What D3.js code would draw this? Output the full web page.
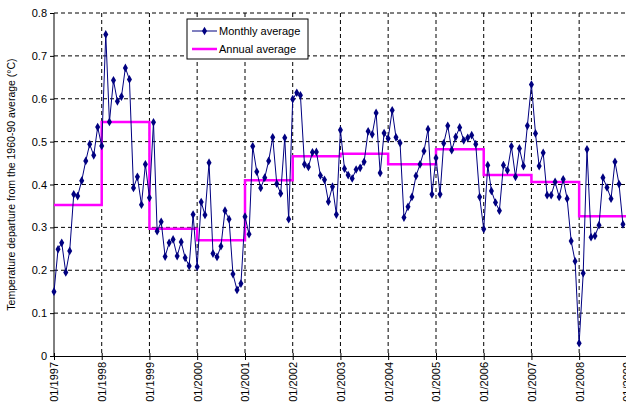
<!DOCTYPE html>
<html>
<head>
<meta charset="utf-8">
<script src="https://cdn.jsdelivr.net/npm/d3@7/dist/d3.min.js"></script>
<style>
  body { margin: 0; background: #fff; }
  svg { display: block; font-family: "Liberation Sans", Arial, sans-serif; }
  .grid line { stroke: #000; stroke-dasharray: 4,3; stroke-width: 1; }
  .axis path, .axis line { stroke: #000; }
  .axis text { fill: #000; font-size: 11px; }
</style>
</head>
<body>
<div id="chart"></div>
<script>
// monthly values, one row per year (Jan..Dec)
var years = [1997, 1998, 1999, 2000, 2001, 2002, 2003, 2004, 2005, 2006, 2007, 2008];
var monthly = [
  [0.150, 0.249, 0.264, 0.195, 0.245, 0.377, 0.373, 0.409, 0.455, 0.494, 0.468, 0.534],
  [0.490, 0.750, 0.546, 0.643, 0.594, 0.605, 0.672, 0.645, 0.392, 0.418, 0.353, 0.447],
  [0.369, 0.545, 0.291, 0.313, 0.232, 0.264, 0.272, 0.233, 0.266, 0.229, 0.210, 0.330],
  [0.208, 0.359, 0.329, 0.451, 0.239, 0.231, 0.256, 0.339, 0.319, 0.191, 0.154, 0.169],
  [0.325, 0.284, 0.489, 0.430, 0.392, 0.416, 0.455, 0.510, 0.402, 0.379, 0.509, 0.319],
  [0.599, 0.614, 0.608, 0.447, 0.441, 0.475, 0.476, 0.421, 0.411, 0.360, 0.395, 0.330],
  [0.527, 0.437, 0.422, 0.414, 0.435, 0.439, 0.453, 0.524, 0.517, 0.567, 0.427, 0.520],
  [0.507, 0.573, 0.510, 0.497, 0.323, 0.348, 0.371, 0.420, 0.447, 0.478, 0.529, 0.377],
  [0.462, 0.377, 0.496, 0.537, 0.480, 0.511, 0.533, 0.503, 0.509, 0.515, 0.494, 0.371],
  [0.296, 0.445, 0.385, 0.358, 0.339, 0.445, 0.433, 0.489, 0.418, 0.484, 0.443, 0.537],
  [0.633, 0.519, 0.443, 0.474, 0.375, 0.375, 0.406, 0.371, 0.412, 0.367, 0.268, 0.221],
  [0.030, 0.193, 0.482, 0.277, 0.280, 0.305, 0.416, 0.393, 0.367, 0.453, 0.401, 0.307]
];
var annual = [0.352, 0.546, 0.297, 0.270, 0.410, 0.466, 0.472, 0.447, 0.482, 0.422, 0.406, 0.326];
var yTicks = [0, 0.1, 0.2, 0.3, 0.4, 0.5, 0.6, 0.7, 0.8];

var W = 626, H = 412;
var margin = {top: 13, right: -1, bottom: 56, left: 54};
var width = W - margin.left - margin.right,
    height = H - margin.top - margin.bottom;

var svg = d3.select("#chart").append("svg")
    .attr("width", W)
    .attr("height", H);

var g = svg.append("g")
    .attr("transform", "translate(" + margin.left + "," + margin.top + ")");

var x = d3.scaleTime()
    .domain([new Date(1997, 0, 1), new Date(2009, 0, 1)])
    .range([0, width]);

var y = d3.scaleLinear()
    .domain([0, 0.8])
    .range([height, 0]);

var monthData = [];
monthly.forEach(function(row, i) {
  row.forEach(function(v, m) {
    monthData.push({date: new Date(years[i], m, 1), value: v});
  });
});

var annualData = annual.map(function(v, i) {
  return {start: new Date(years[i], 0, 1), end: new Date(years[i] + 1, 0, 1), value: v};
});

var yearTicks = d3.timeYear.range(new Date(1997, 0, 1), new Date(2009, 0, 2));

// grid
var grid = g.append("g").attr("class", "grid");
grid.selectAll(".hg")
    .data(yTicks.filter(function(d) { return d > 0; }))
  .enter().append("line")
    .attr("x1", 0).attr("x2", width)
    .attr("y1", function(d) { return y(d); })
    .attr("y2", function(d) { return y(d); });
grid.selectAll(".vg")
    .data(yearTicks.slice(1))
  .enter().append("line")
    .attr("x1", function(d) { return x(d); })
    .attr("x2", function(d) { return x(d); })
    .attr("y1", 0).attr("y2", height);

// axes
g.append("g")
    .attr("class", "axis")
    .call(d3.axisLeft(y).tickValues(yTicks).tickFormat(d3.format("")).tickSize(4).tickPadding(3))
    .call(function(s) { s.select(".domain").attr("d", "M0," + height + "V0"); });

var xAxis = g.append("g")
    .attr("class", "axis")
    .attr("transform", "translate(0," + height + ")")
    .call(d3.axisBottom(x).tickValues(yearTicks).tickFormat(d3.timeFormat("%m/%Y")).tickSize(4).tickSizeOuter(0));
xAxis.selectAll(".tick line").attr("y1", -3);
xAxis.selectAll("text")
    .attr("transform", "rotate(-90)")
    .attr("text-anchor", "end")
    .attr("x", -6)
    .attr("y", 0)
    .attr("dy", "0.35em");

// annual step line
var stepPts = [];
annualData.forEach(function(d) {
  stepPts.push([x(d.start), y(d.value)]);
  stepPts.push([x(d.end), y(d.value)]);
});
g.append("path")
    .attr("d", d3.line()(stepPts))
    .attr("fill", "none")
    .attr("stroke", "#ff00ff")
    .attr("stroke-width", 2.5);

// monthly line + markers
var line = d3.line()
    .x(function(d) { return x(d.date); })
    .y(function(d) { return y(d.value); });

g.append("path")
    .datum(monthData)
    .attr("d", line)
    .attr("fill", "none")
    .attr("stroke", "#000080")
    .attr("stroke-width", 1);

var diamond = d3.symbol().type(d3.symbolDiamond).size(22);
g.selectAll(".pt")
    .data(monthData)
  .enter().append("path")
    .attr("class", "pt")
    .attr("transform", function(d) { return "translate(" + x(d.date) + "," + y(d.value) + ")"; })
    .attr("d", diamond)
    .attr("fill", "#000080");

// y title
svg.append("text")
    .attr("transform", "translate(15," + (margin.top + height / 2) + ") rotate(-90)")
    .attr("text-anchor", "middle")
    .style("font-size", "10.5px")
    .text("Temperature departure from the 1960-90 average (\u00b0C)");

// legend
var lg = svg.append("g").attr("transform", "translate(187,19)");
lg.append("rect")
    .attr("width", 121).attr("height", 40)
    .attr("fill", "#fff").attr("stroke", "#000").attr("stroke-width", 1);
lg.append("line")
    .attr("x1", 5).attr("x2", 30).attr("y1", 12).attr("y2", 12)
    .attr("stroke", "#000080").attr("stroke-width", 1);
lg.append("path")
    .attr("transform", "translate(17.5,12)")
    .attr("d", diamond).attr("fill", "#000080");
lg.append("line")
    .attr("x1", 5).attr("x2", 30).attr("y1", 30).attr("y2", 30)
    .attr("stroke", "#ff00ff").attr("stroke-width", 2.5);
lg.append("text").attr("x", 32).attr("y", 12).attr("dy", "0.35em")
    .style("font-size", "11px").text("Monthly average");
lg.append("text").attr("x", 32).attr("y", 30).attr("dy", "0.35em")
    .style("font-size", "11px").text("Annual average");
</script>
</body>
</html>
